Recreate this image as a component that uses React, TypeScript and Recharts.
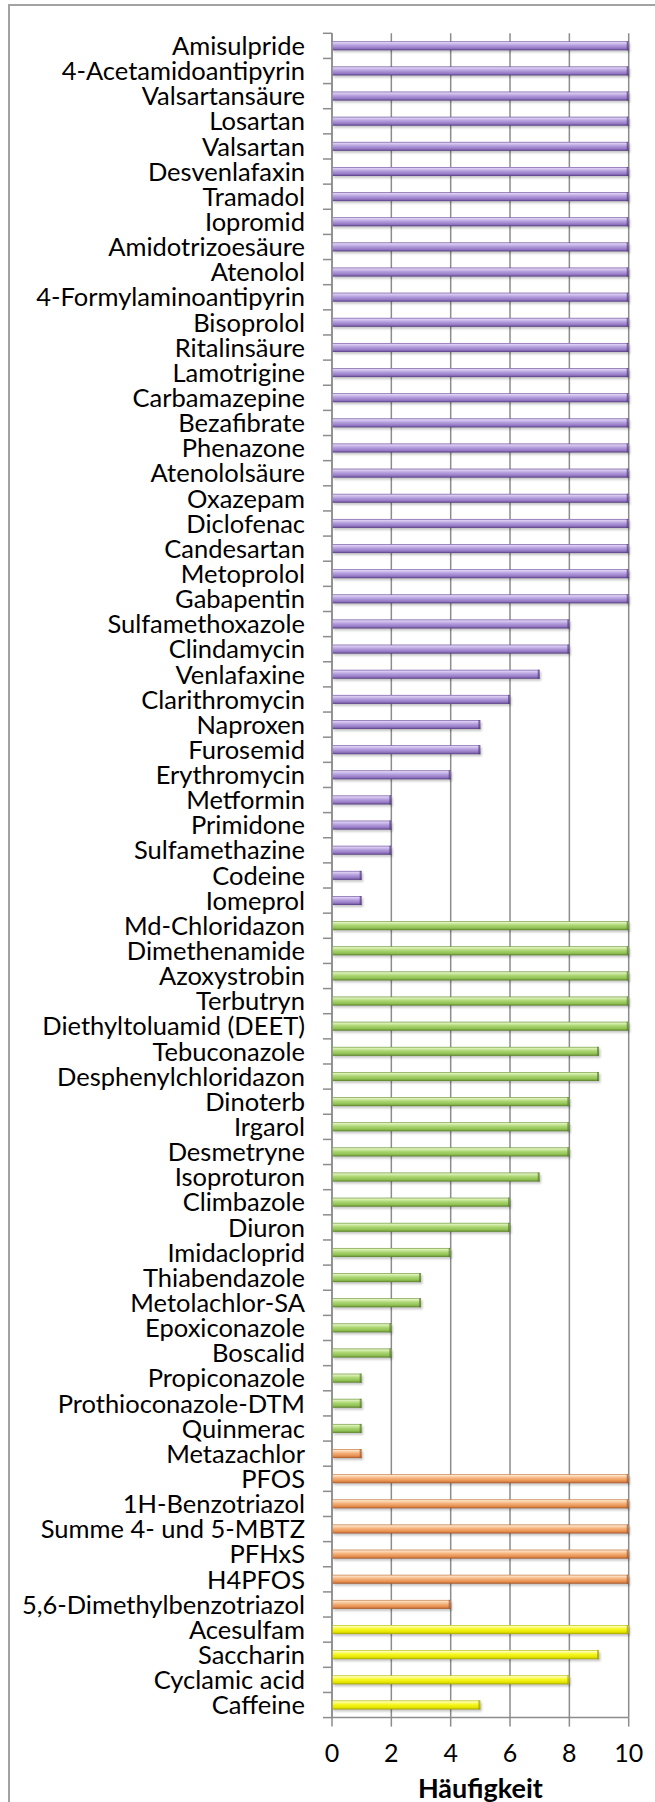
import { BarChart, Bar, XAxis, YAxis, CartesianGrid, Label } from "recharts";

const pharmaNames = [
  "Amisulpride", "4-Acetamidoantipyrin", "Valsartansäure", "Losartan", "Valsartan",
  "Desvenlafaxin", "Tramadol", "Iopromid", "Amidotrizoesäure", "Atenolol",
  "4-Formylaminoantipyrin", "Bisoprolol", "Ritalinsäure", "Lamotrigine", "Carbamazepine",
  "Bezafibrate", "Phenazone", "Atenololsäure", "Oxazepam", "Diclofenac",
  "Candesartan", "Metoprolol", "Gabapentin", "Sulfamethoxazole", "Clindamycin",
  "Venlafaxine", "Clarithromycin", "Naproxen", "Furosemid", "Erythromycin",
  "Metformin", "Primidone", "Sulfamethazine", "Codeine", "Iomeprol",
];
const pharmaCounts = [
  10, 10, 10, 10, 10, 10, 10, 10, 10, 10, 10, 10, 10, 10, 10, 10, 10, 10, 10, 10,
  10, 10, 10, 8, 8, 7, 6, 5, 5, 4, 2, 2, 2, 1, 1,
];

const pestNames = [
  "Md-Chloridazon", "Dimethenamide", "Azoxystrobin", "Terbutryn", "Diethyltoluamid (DEET)",
  "Tebuconazole", "Desphenylchloridazon", "Dinoterb", "Irgarol", "Desmetryne",
  "Isoproturon", "Climbazole", "Diuron", "Imidacloprid", "Thiabendazole",
  "Metolachlor-SA", "Epoxiconazole", "Boscalid", "Propiconazole", "Prothioconazole-DTM",
  "Quinmerac",
];
const pestCounts = [10, 10, 10, 10, 10, 9, 9, 8, 8, 8, 7, 6, 6, 4, 3, 3, 2, 2, 1, 1, 1];

const industryNames = [
  "Metazachlor", "PFOS", "1H-Benzotriazol", "Summe 4- und 5-MBTZ", "PFHxS", "H4PFOS",
  "5,6-Dimethylbenzotriazol",
];
const industryCounts = [1, 10, 10, 10, 10, 10, 4];

const sweetNames = ["Acesulfam", "Saccharin", "Cyclamic acid", "Caffeine"];
const sweetCounts = [10, 9, 8, 5];

const xTicks = [0, 2, 4, 6, 8, 10];

const groups = [
  { key: "pharma", names: pharmaNames, counts: pharmaCounts },
  { key: "pest", names: pestNames, counts: pestCounts },
  { key: "industry", names: industryNames, counts: industryCounts },
  { key: "sweet", names: sweetNames, counts: sweetCounts },
];

// top edge, highlight, body, lower body, bottom edge
const palette: Record<string, string[]> = {
  pharma: ["#6f529c", "#ddd0f4", "#b59fdd", "#9478c4", "#553c80"],
  pest: ["#6a9438", "#e0f2bc", "#acd774", "#8fbf52", "#587f28"],
  industry: ["#c2763c", "#fde2c6", "#f5b27a", "#e68d4d", "#a5582a"],
  sweet: ["#b8b800", "#ffffb0", "#f7f722", "#e6e600", "#a3a300"],
};

const data = groups.flatMap((g) =>
  g.names.map((name, i) => ({ name, value: g.counts[i], group: g.key }))
);

const W = 655;
const H = 1802;
const MARGIN = { top: 33.3, right: 26.3, bottom: 0, left: 0 };
const Y_W = 332;
const X_H = 84.4;
const TICK = 9;
const GAP = 18;
const GRID = "#8c8c8c";
const FONT = "Lato, 'Open Sans', sans-serif";
const band = (H - MARGIN.top - MARGIN.bottom - X_H) / data.length;

function CategoryTick(props: any) {
  const { x, y, payload, index } = props;
  const ax = x + GAP + TICK;
  return (
    <g>
      <line x1={ax - TICK} x2={ax} y1={y - band / 2} y2={y - band / 2} stroke={GRID} strokeWidth={1.5} />
      {index === data.length - 1 && (
        <line x1={ax - TICK} x2={ax} y1={y + band / 2} y2={y + band / 2} stroke={GRID} strokeWidth={1.5} />
      )}
      <text x={x} y={y} dy="0.36em" textAnchor="end" fontSize={25.5} fontFamily={FONT} fill="#000">
        {payload.value}
      </text>
    </g>
  );
}

function GlossyBar(props: any) {
  const { x, y, width, height, payload } = props;
  if (!width || width <= 0) return null;
  const dark = palette[payload.group][4];
  return (
    <g>
      <rect x={x + 1.5} y={y + 2} width={width} height={height} fill="#000" opacity={0.22} filter="url(#barShadow)" />
      <rect x={x} y={y} width={width} height={height} fill={`url(#grad-${payload.group})`} />
      <rect x={x + width - 2} y={y} width={2} height={height} fill={dark} opacity={0.7} />
    </g>
  );
}

export default function App() {
  return (
    <div style={{ position: "absolute", left: 0, top: 0, width: W, height: H, overflow: "hidden", background: "#fff" }}>
      <div
        style={{
          position: "absolute",
          left: 8,
          top: 4,
          width: 720,
          height: 1900,
          border: "2px solid #a3a3a3",
          boxSizing: "border-box",
        }}
      />
      <div style={{ position: "absolute", left: 0, top: 0 }}>
        <BarChart width={W} height={H} data={data} layout="vertical" margin={MARGIN} barSize={9}>
          <defs>
            <filter id="barShadow" x="-10%" y="-50%" width="120%" height="200%">
              <feGaussianBlur stdDeviation="1.2" />
            </filter>
            {Object.keys(palette).map((k) => (
              <linearGradient key={k} id={`grad-${k}`} x1="0" y1="0" x2="0" y2="1">
                <stop offset="0" stopColor={palette[k][0]} />
                <stop offset="0.14" stopColor={palette[k][1]} />
                <stop offset="0.45" stopColor={palette[k][2]} />
                <stop offset="0.78" stopColor={palette[k][3]} />
                <stop offset="1" stopColor={palette[k][4]} />
              </linearGradient>
            ))}
          </defs>
          <CartesianGrid horizontal={false} stroke={GRID} strokeWidth={1.5} />
          <XAxis
            type="number"
            domain={[0, 10]}
            ticks={xTicks}
            interval={0}
            height={X_H}
            tickSize={TICK}
            tickMargin={18}
            axisLine={{ stroke: GRID, strokeWidth: 1.5 }}
            tickLine={{ stroke: GRID, strokeWidth: 1.5 }}
            tick={{ fontSize: 25, fontFamily: FONT, fill: "#000" }}
          >
            <Label
              value="Häufigkeit"
              position="insideBottom"
              offset={4}
              style={{ fontSize: 27, fontWeight: 700, fontFamily: FONT, fill: "#000" }}
            />
          </XAxis>
          <YAxis
            type="category"
            dataKey="name"
            width={Y_W}
            interval={0}
            tickSize={TICK}
            tickMargin={GAP}
            tickLine={false}
            axisLine={{ stroke: GRID, strokeWidth: 1.5 }}
            tick={<CategoryTick />}
          />
          <Bar dataKey="value" isAnimationActive={false} shape={<GlossyBar />} />
        </BarChart>
      </div>
    </div>
  );
}
